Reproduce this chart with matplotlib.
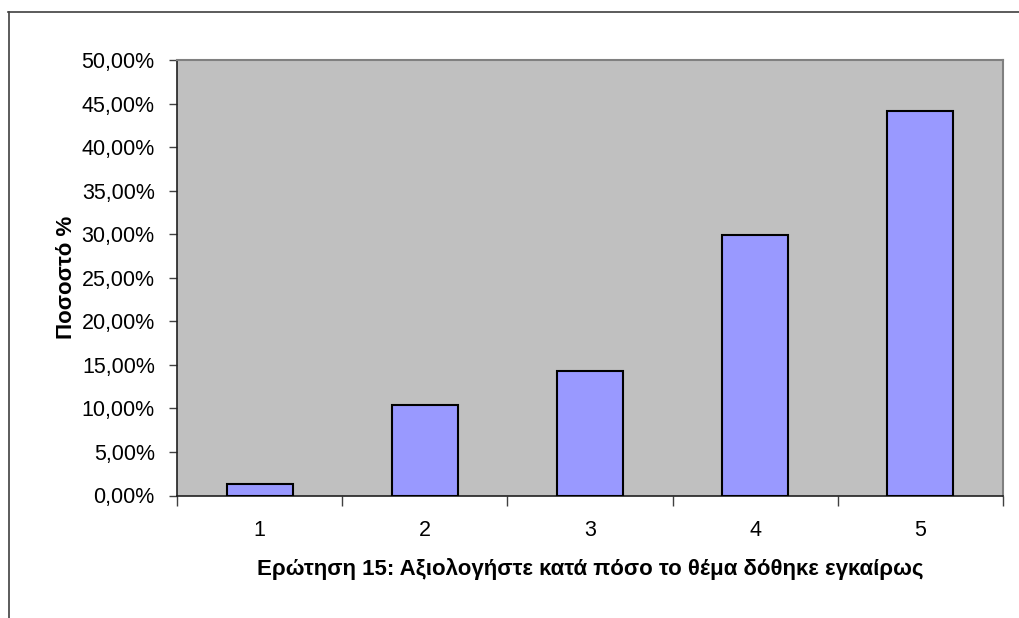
import numpy as np
import matplotlib.pyplot as plt
from matplotlib.lines import Line2D
from matplotlib.ticker import FuncFormatter

# Data
categories = ['1', '2', '3', '4', '5']
percentages = [1.30, 10.39, 14.29, 29.87, 44.16]

plt.rcParams['font.family'] = ['Liberation Sans', 'DejaVu Sans']

fig = plt.figure(figsize=(10.19, 6.18), dpi=100)
ax = fig.add_axes([177 / 1019, 1 - 495.5 / 618, 826 / 1019, 435.5 / 618])

x = np.arange(1, len(categories) + 1)
ax.bar(x, percentages, width=0.4, color='#9999FF', edgecolor='black', linewidth=1.5, zorder=3)

ax.set_facecolor('#C0C0C0')
ax.set_xlim(0.5, 5.5)
ax.set_ylim(0, 50)

ax.set_yticks(np.arange(0, 51, 5))
ax.yaxis.set_major_formatter(FuncFormatter(lambda v, p: f'{v:.2f}%'.replace('.', ',')))
ax.set_xticks(x)
ax.set_xticklabels(categories)
ax.set_xticks(np.arange(0.5, 5.6, 1), minor=True)
ax.tick_params(axis='x', which='major', length=0, pad=18, labelsize=15.5)
ax.tick_params(axis='x', which='minor', length=7, width=1, direction='out', color='#404040')
ax.tick_params(axis='y', length=6, width=1, direction='out', labelsize=15.5, color='#404040', pad=10)

for s in ['left', 'bottom']:
    ax.spines[s].set_color('#202020')
    ax.spines[s].set_linewidth(1.2)
for s in ['top', 'right']:
    ax.spines[s].set_color('#808080')
    ax.spines[s].set_linewidth(1.5)

ax.set_ylabel('Ποσοστό %', fontsize=16, fontweight='bold', labelpad=3)
ax.set_xlabel('Ερώτηση 15: Αξιολογήστε κατά πόσο το θέμα δόθηκε εγκαίρως',
              fontsize=16, fontweight='bold', labelpad=12)

# outer chart frame (top and left edges visible)
fig.add_artist(Line2D([8 / 1019, 1], [1 - 12 / 618, 1 - 12 / 618], color='#404040', lw=1.2))
fig.add_artist(Line2D([8.5 / 1019, 8.5 / 1019], [0, 1 - 12 / 618], color='#404040', lw=1.2))

fig.savefig('out.png', dpi=100)
